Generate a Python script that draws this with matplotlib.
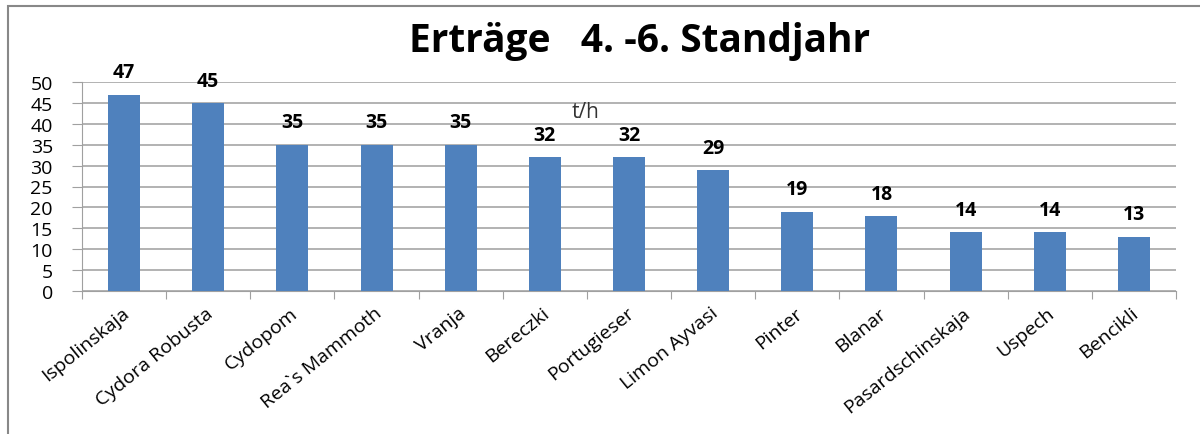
import matplotlib.pyplot as plt
import matplotlib.transforms as mtransforms
from matplotlib.patches import Rectangle

sorten = ["Ispolinskaja", "Cydora Robusta", "Cydopom", "Rea`s Mammoth", "Vranja",
          "Bereczki", "Portugieser", "Limon Ayvasi", "Pinter", "Blanar",
          "Pasardschinskaja", "Uspech", "Bencikli"]
ertrag = [47, 45, 35, 35, 35, 32, 32, 29, 19, 18, 14, 14, 13]
y_ticks = [0, 5, 10, 15, 20, 25, 30, 35, 40, 45, 50]

plt.rcParams['font.family'] = ['Open Sans', 'DejaVu Sans']

fig = plt.figure(figsize=(12, 4.35), dpi=100)
ax = fig.add_axes([82 / 1200, 1 - 292 / 435, (1176 - 82) / 1200, (292 - 83) / 435])

x = range(len(sorten))
bars = ax.bar(x, ertrag, width=0.38, color="#4F81BD", zorder=3)

ax.set_xlim(-0.5, len(sorten) - 0.5)
ax.set_ylim(0, 50)
ax.set_yticks(y_ticks)
ax.tick_params(axis="y", labelsize=14, length=7, color="#A0A0A0", pad=14)
ax.set_xticks([i - 0.5 for i in range(len(sorten) + 1)])
ax.set_xticklabels([])
ax.set_xticks(list(x), minor=True)
ax.set_xticklabels(sorten, minor=True, rotation=39, ha="right", va="top",
                   rotation_mode="anchor", fontsize=14)
ax.tick_params(axis="x", which="major", length=6, color="#A0A0A0")
ax.tick_params(axis="x", which="minor", length=0, pad=9)
shift = mtransforms.ScaledTranslation(-3 / 100, 0, fig.dpi_scale_trans)
for lbl in ax.get_xticklabels(minor=True):
    lbl.set_transform(lbl.get_transform() + shift)

ax.grid(axis="y", color="#A6A6A6", linewidth=1.2, zorder=0)
for side in ["top", "right"]:
    ax.spines[side].set_visible(False)
for side in ["left", "bottom"]:
    ax.spines[side].set_color("#A0A0A0")

for b, v in zip(bars, ertrag):
    ax.annotate(str(v), (b.get_x() + b.get_width() / 2, v), xytext=(0, 16),
                textcoords="offset points", ha="center", va="center",
                fontsize=14, fontweight="bold")

ax.text(5.48, 43, "t/h", fontsize=15, ha="center", va="center", color="#333333")

fig.text(0.533, 1 - 52 / 435, "Erträge   4. -6. Standjahr", ha="center",
         va="baseline", fontsize=28, fontweight="bold")

fig.patches.append(Rectangle((8 / 1200, -0.01), 1.1, 1 - 7 / 435 + 0.01,
                             transform=fig.transFigure, fill=False,
                             edgecolor="#888888", linewidth=1.5))

fig.savefig("out.png", dpi=100)
